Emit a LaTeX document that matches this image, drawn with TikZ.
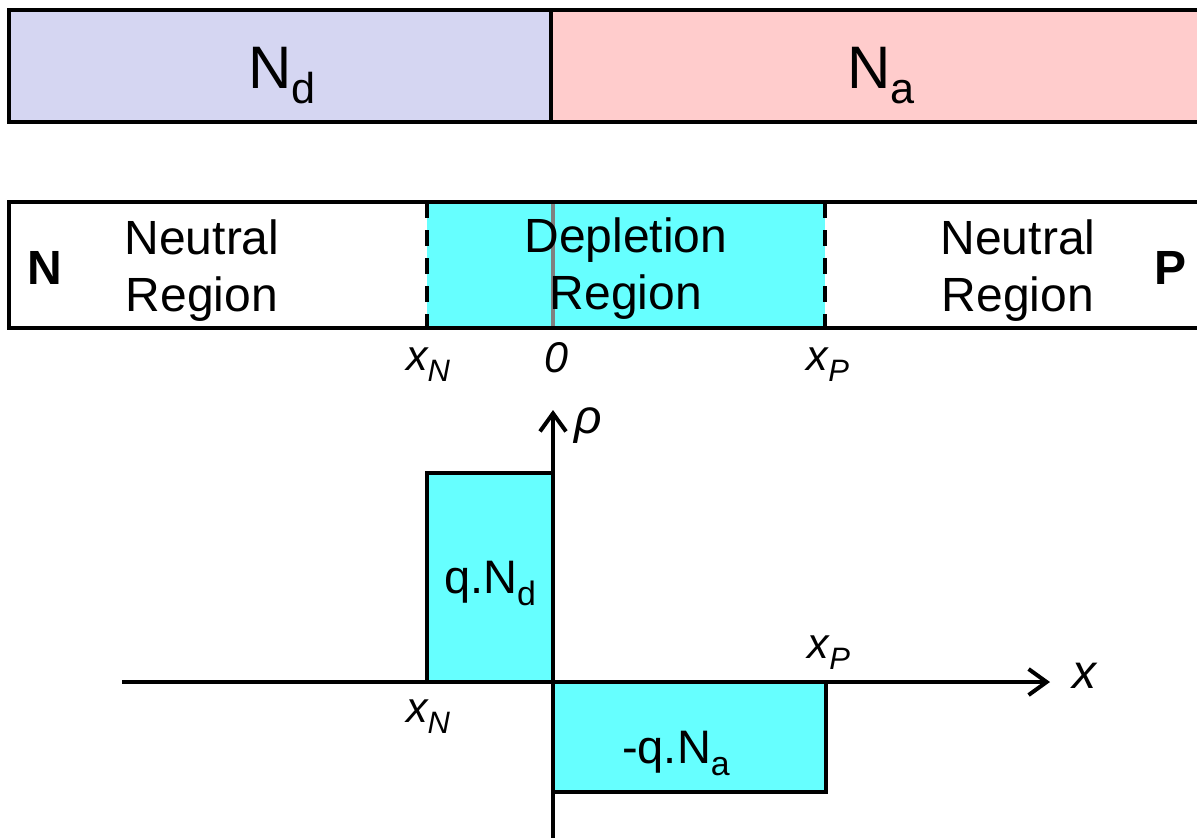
\documentclass[tikz,border=0pt]{standalone}
\usepackage{fontspec}
\setmainfont{Liberation Sans}
\usetikzlibrary{positioning, arrows.meta}
\definecolor{donorblue}{RGB}{213,214,242}
\definecolor{acceptorpink}{RGB}{255,204,204}
\definecolor{depcyan}{RGB}{102,255,255}
\newcommand{\lsub}[1]{\raisebox{-0.5ex}{\scalebox{0.72}{#1}}}

\begin{document}
\begin{tikzpicture}[x=0.5pt, y=-0.5pt, line width=2pt,
    dopetxt/.style={font=\fontsize{30}{36}\selectfont},
    regiontxt/.style={font=\fontsize{24}{28.5}\selectfont, align=center},
    sidetxt/.style={font=\fontsize{24}{28}\selectfont\bfseries},
    postxt/.style={font=\fontsize{21.5}{25}\selectfont\itshape},
    axistxt/.style={font=\fontsize{24}{28}\selectfont\itshape},
    chargetxt/.style={font=\fontsize{23.5}{28}\selectfont},
    edgeline/.style={line width=2pt, dash pattern=on 8pt off 6pt},
    axisarrow/.style={-{Straight Barb[length=9pt,width=13pt,line width=2pt]}}]
    \useasboundingbox (0,0) rectangle (1197,837);
    \clip (0,0) rectangle (1197,837);

    % Doping bar
    \filldraw[fill=donorblue] (9,10) rectangle (551,122);
    \filldraw[fill=acceptorpink] (551,10) rectangle (1210,122);
    \node[dopetxt, anchor=base] (nd) at (282,88) {N\lsub{d}};
    \node[dopetxt, anchor=base] (na) at (881,88) {N\lsub{a}};

    % Junction bar with depletion region
    \fill[depcyan] (427,202) rectangle (825,328);
    \draw[edgeline] (427,202) -- (427,328);
    \draw[edgeline] (825,202) -- (825,328);
    \draw[line width=2pt, gray] (553,202) -- (553,328);
    \draw (1210,202) -- (9,202) -- (9,328) -- (1210,328);
    \node[sidetxt, anchor=base] (nside) at (45,284) {N};
    \node[sidetxt, anchor=base] (pside) at (1170,284) {P};
    \node[regiontxt] (nneutral) at (202,271) {Neutral\\Region};
    \node[regiontxt] (depletion) at (626,269) {Depletion\\Region};
    \node[regiontxt] (pneutral) at (1018,271) {Neutral\\Region};
    \node[postxt, anchor=base] (xntop) at (428,370) {x\lsub{N}};
    \node[postxt, anchor=base] (zero) at (556,372) {0};
    \node[postxt, anchor=base] (xptop) at (828,370) {x\lsub{P}};

    % Charge density
    \filldraw[fill=depcyan] (427,682) -- (427,473) -- (553,473) -- (553,682);
    \filldraw[fill=depcyan] (553,682) rectangle (826,792);
    \node[chargetxt, anchor=base] (qnd) at (490,593) {q.N\lsub{d}};
    \node[chargetxt, anchor=base] (qna) at (676,763) {-q.N\lsub{a}};

    % Axes
    \coordinate (xstart) at (122,682);
    \coordinate (xend) at (1050,682);
    \coordinate (ystart) at (553,840);
    \coordinate (yend) at (553,410);
    \draw[axisarrow] (xstart) -- (xend);
    \draw[axisarrow] (ystart) -- (yend);
    \node[axistxt, anchor=base] (xlabel) at (1084,688) {x};
    \node[axistxt] (rholabel) at (588,426) {ρ};
    \node[postxt, anchor=base] (xpbot) at (829,658) {x\lsub{P}};
    \node[postxt, anchor=base] (xnbot) at (428,722) {x\lsub{N}};
\end{tikzpicture}
\end{document}
